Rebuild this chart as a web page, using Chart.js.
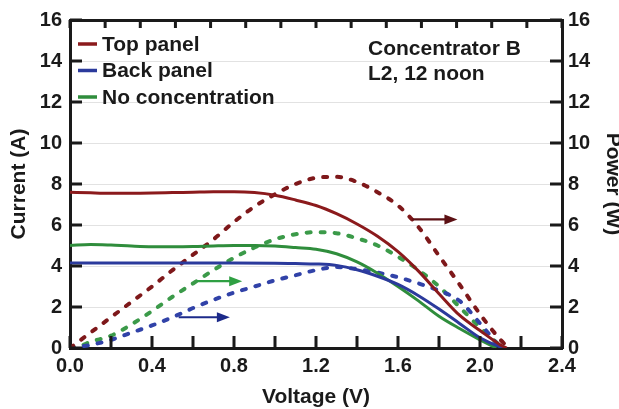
<!DOCTYPE html>
<html>
<head>
<meta charset="utf-8">
<script src="https://cdn.jsdelivr.net/npm/chart.js@4.4.1/dist/chart.umd.min.js"></script>
<style>
  html, body { margin: 0; padding: 0; background: #fff; }
</style>
</head>
<body>
<canvas id="iv-chart" width="619" height="409"></canvas>
<script>
// Current (A) vs voltage (V)
const vTop  = [0, 0.1, 0.2, 0.3, 0.4, 0.5, 0.6, 0.7, 0.8, 0.9, 1.0, 1.1, 1.2, 1.3, 1.4, 1.5, 1.6, 1.7, 1.8, 1.9, 2.0, 2.1, 2.13];
const iTop  = [7.6, 7.57, 7.55, 7.55, 7.56, 7.58, 7.6, 7.62, 7.62, 7.58, 7.45, 7.22, 6.95, 6.55, 6.05, 5.45, 4.7, 3.75, 2.65, 1.6, 0.85, 0.15, 0];
const vBack = [0, 0.2, 0.4, 0.6, 0.8, 1.0, 1.1, 1.2, 1.3, 1.4, 1.5, 1.6, 1.7, 1.8, 1.9, 2.0, 2.1, 2.12];
const iBack = [4.15, 4.15, 4.15, 4.15, 4.15, 4.14, 4.12, 4.1, 4.03, 3.82, 3.5, 3.1, 2.55, 1.9, 1.2, 0.5, 0.05, 0];
const vNo   = [0, 0.1, 0.2, 0.3, 0.4, 0.5, 0.6, 0.7, 0.8, 0.9, 1.0, 1.1, 1.2, 1.3, 1.4, 1.5, 1.6, 1.7, 1.8, 1.9, 2.0, 2.08];
const iNo   = [5.0, 5.05, 5.02, 4.97, 4.94, 4.94, 4.95, 4.98, 5.0, 5.0, 4.97, 4.9, 4.82, 4.6, 4.2, 3.65, 3.0, 2.3, 1.55, 0.95, 0.4, 0];

// Power (W) vs voltage (V)
const vTopP  = [0, 0.1, 0.2, 0.3, 0.4, 0.5, 0.6, 0.7, 0.8, 0.9, 1.0, 1.1, 1.2, 1.3, 1.4, 1.5, 1.6, 1.7, 1.8, 1.9, 2.0, 2.1, 2.14];
const pTop   = [0, 0.75, 1.5, 2.25, 3.0, 3.8, 4.55, 5.3, 6.15, 6.9, 7.5, 8.0, 8.3, 8.35, 8.1, 7.6, 6.95, 5.9, 4.5, 3.1, 1.65, 0.4, 0];
const vBackP = [0, 0.1, 0.2, 0.3, 0.4, 0.5, 0.6, 0.7, 0.8, 0.9, 1.0, 1.1, 1.2, 1.3, 1.4, 1.5, 1.6, 1.7, 1.8, 1.9, 2.0, 2.1];
const pBack  = [0, 0.15, 0.4, 0.75, 1.1, 1.5, 1.95, 2.35, 2.7, 3.0, 3.3, 3.55, 3.8, 3.95, 3.85, 3.68, 3.45, 3.15, 2.8, 2.3, 1.2, 0];
const vNoP   = [0, 0.05, 0.1, 0.2, 0.3, 0.4, 0.5, 0.6, 0.7, 0.8, 0.9, 1.0, 1.1, 1.2, 1.3, 1.4, 1.5, 1.6, 1.7, 1.8, 1.9, 2.0, 2.11];
const pNo    = [0, 0.1, 0.3, 0.6, 1.15, 1.8, 2.5, 3.15, 3.8, 4.4, 4.9, 5.3, 5.55, 5.65, 5.6, 5.35, 5.0, 4.45, 3.8, 3.0, 2.0, 1.0, 0];

const seriesLabels = ['Top panel', 'Back panel', 'No concentration'];
const noteLines = ['Concentrator B', 'L2, 12 noon'];

// arrows pointing at the power axis: [from V, to V, power level]
const arrowFrom  = [1.67, 0.53, 0.62];
const arrowTo    = [1.89, 0.78, 0.84];
const arrowLevel = [6.27, 1.5, 3.26];

const FONT = "'Liberation Sans', Arial, Helvetica, sans-serif";
const solidColors = ['#8b1a1c', '#2b3a9c', '#2f8d3c'];
const dashColors = ['#7e181a', '#3142a8', '#3b9a49'];
const arrowColors = ['#5c1014', '#1c2a8a', '#2fa043'];
const INK = '#1a1a1a';

const toPoints = (vs, ys) => vs.map((v, i) => ({ x: v, y: ys[i] }));

const currents = [[vTop, iTop], [vBack, iBack], [vNo, iNo]];
const powers = [[vTopP, pTop], [vBackP, pBack], [vNoP, pNo]];

const datasets = [];
currents.forEach((c, k) => datasets.push({
  label: seriesLabels[k],
  data: toPoints(c[0], c[1]),
  yAxisID: 'y',
  borderColor: solidColors[k],
  borderWidth: 3,
  pointRadius: 0,
  cubicInterpolationMode: 'monotone'
}));
powers.forEach((p, k) => datasets.push({
  label: seriesLabels[k] + ' power',
  data: toPoints(p[0], p[1]),
  yAxisID: 'yP',
  borderColor: dashColors[k],
  borderWidth: 4,
  borderDash: [4, 10],
  borderCapStyle: 'round',
  pointRadius: 0,
  cubicInterpolationMode: 'monotone'
}));

// inward tick marks, arrows, legend and note
const decorations = {
  id: 'decorations',
  afterDatasetsDraw(chart) {
    const { ctx, scales } = chart;
    ctx.save();
    arrowFrom.forEach((v, k) => {
      const x1 = scales.x.getPixelForValue(v);
      const x2 = scales.x.getPixelForValue(arrowTo[k]);
      const y = scales.yP.getPixelForValue(arrowLevel[k]);
      ctx.strokeStyle = arrowColors[k];
      ctx.fillStyle = arrowColors[k];
      ctx.lineWidth = 2.2;
      ctx.beginPath();
      ctx.moveTo(x1, y);
      ctx.lineTo(x2 - 10, y);
      ctx.stroke();
      ctx.beginPath();
      ctx.moveTo(x2, y);
      ctx.lineTo(x2 - 13, y - 5);
      ctx.lineTo(x2 - 13, y + 5);
      ctx.closePath();
      ctx.fill();
    });
    ctx.restore();
  },
  afterDraw(chart) {
    const { ctx, chartArea: a, scales } = chart;
    ctx.save();
    ctx.strokeStyle = INK;
    ctx.lineWidth = 3;
    ctx.beginPath();
    scales.x.ticks.forEach(t => {
      const px = scales.x.getPixelForValue(t.value);
      ctx.moveTo(px, a.bottom);
      ctx.lineTo(px, a.bottom - 12);
    });
    scales.x2.ticks.forEach(t => {
      const px = scales.x2.getPixelForValue(t.value);
      ctx.moveTo(px, a.top);
      ctx.lineTo(px, a.top + 8);
    });
    scales.y.ticks.forEach(t => {
      const py = scales.y.getPixelForValue(t.value);
      ctx.moveTo(a.left, py);
      ctx.lineTo(a.left + 12, py);
    });
    scales.yP.ticks.forEach(t => {
      const py = scales.yP.getPixelForValue(t.value);
      ctx.moveTo(a.right, py);
      ctx.lineTo(a.right - 12, py);
    });
    ctx.stroke();

    // legend
    ctx.font = `bold 21px ${FONT}`;
    ctx.textBaseline = 'middle';
    ctx.textAlign = 'left';
    seriesLabels.forEach((label, k) => {
      const y = a.top + 24 + k * 26.5;
      ctx.strokeStyle = solidColors[k];
      ctx.lineWidth = 3.5;
      ctx.beginPath();
      ctx.moveTo(a.left + 8, y);
      ctx.lineTo(a.left + 27, y);
      ctx.stroke();
      ctx.fillStyle = INK;
      ctx.fillText(label, a.left + 32, y + 1);
    });

    noteLines.forEach((line, k) => {
      ctx.fillText(line, a.left + 298, a.top + 29 + k * 25);
    });
    ctx.restore();
  }
};

const tickFont = { family: FONT, size: 20, weight: 'bold' };
const titleFont = { family: FONT, size: 21, weight: 'bold' };
const frame = { display: true, color: INK, width: 3 };

new Chart(document.getElementById('iv-chart'), {
  type: 'line',
  data: { datasets },
  options: {
    responsive: false,
    animation: false,
    layout: { padding: 0 },
    plugins: { legend: { display: false }, tooltip: { enabled: false } },
    scales: {
      x: {
        type: 'linear',
        position: 'bottom',
        min: 0,
        max: 2.4,
        ticks: {
          stepSize: 0.2,
          maxTicksLimit: 20,
          autoSkip: false,
          maxRotation: 0,
          padding: 6,
          color: INK,
          font: tickFont,
          callback: (value, index) => index % 2 === 0 ? value.toFixed(1) : ''
        },
        grid: { drawOnChartArea: false, drawTicks: false },
        border: frame,
        title: { display: true, text: 'Voltage (V)', color: INK, font: titleFont, padding: { top: 0, bottom: -1 } },
        afterFit(s) { s.height = 61; }
      },
      x2: {
        type: 'linear',
        position: 'top',
        min: 0,
        max: 14,
        ticks: { display: false, stepSize: 1, maxTicksLimit: 20 },
        grid: { drawOnChartArea: false, drawTicks: false },
        border: frame,
        afterFit(s) { s.height = 19; }
      },
      y: {
        position: 'left',
        min: 0,
        max: 16,
        ticks: { stepSize: 2, padding: 8, color: INK, font: tickFont },
        grid: { color: '#e2e2e2', lineWidth: 1, drawTicks: false },
        border: frame,
        title: { display: true, text: 'Current (A)', color: INK, font: titleFont, padding: { top: 7, bottom: 0 } },
        afterFit(s) { s.width = 70; }
      },
      yP: {
        position: 'right',
        min: 0,
        max: 16,
        ticks: { stepSize: 2, padding: 6, color: INK, font: tickFont },
        grid: { drawOnChartArea: false, drawTicks: false },
        border: frame,
        title: { display: true, text: 'Power (W)', color: INK, font: titleFont, padding: { top: -6, bottom: 0 } },
        afterFit(s) { s.width = 57; }
      }
    }
  },
  plugins: [decorations]
});
</script>
</body>
</html>
